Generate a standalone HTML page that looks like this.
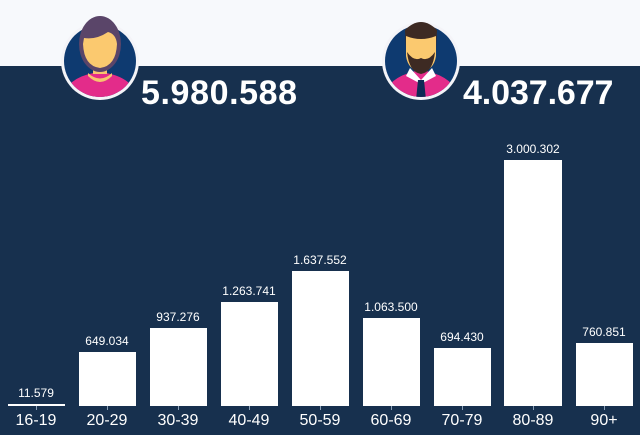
<!DOCTYPE html>
<html><head><meta charset="utf-8"><style>
html,body{margin:0;padding:0;}
body{width:640px;height:435px;overflow:hidden;background:#f7f9fc;}
svg{display:block;font-family:"Liberation Sans",sans-serif;}
</style></head><body>
<svg width="640" height="435" viewBox="0 0 640 435">
<rect x="0" y="0" width="640" height="66" fill="#f7f9fc"/>
<rect x="0" y="66" width="640" height="369" fill="#17304e"/>

<!-- female icon -->
<g>
<circle cx="100" cy="61" r="39" fill="#f4f4f8"/>
<circle cx="100" cy="61" r="36" fill="#0e3a70"/>
<clipPath id="c1"><circle cx="100" cy="61" r="36"/></clipPath>
<g clip-path="url(#c1)">
<path d="M62 100 Q66 76 100 72 Q134 76 138 100 Z" fill="#e32c8a"/>
<rect x="93" y="58" width="14" height="16" fill="#f7c56e"/>
<path d="M88 73 Q100 84 112 73 L112 76 Q100 88 88 76 Z" fill="#f7c56e"/>
</g>
<ellipse cx="100" cy="44" rx="21" ry="28" fill="#5a4569"/>
<path d="M83 44 Q84 66 100 68 Q116 66 117 44 Q116 34 108 32 Q96 40 84 38 Z" fill="#fbc96f"/>
</g>
<text x="141" y="104" font-size="34" font-weight="bold" fill="#ffffff" letter-spacing="0.6">5.980.588</text>

<!-- male icon -->
<g>
<circle cx="421" cy="61" r="39" fill="#f4f4f8"/>
<circle cx="421" cy="61" r="36" fill="#0e3a70"/>
<clipPath id="c2"><circle cx="421" cy="61" r="36"/></clipPath>
<g clip-path="url(#c2)">
<path d="M383 100 Q386 76 421 70 Q456 76 459 100 Z" fill="#e32c8a"/>
<path d="M410 68 L421 80 L432 68 L436 76 L421 84 L406 76 Z" fill="#ffffff"/>
<path d="M418 80 L424 80 L426 100 L416 100 Z" fill="#0e2a55"/>
</g>
<path d="M405 30 Q421 14 437 30 L436 50 L406 50 Z" fill="#3d2a23"/>
<path d="M406 36 Q421 42 436 36 L436 56 Q434 70 421 72 Q408 70 406 56 Z" fill="#fbc96f"/>
<path d="M407 52 Q409 72 421 74 Q433 72 435 52 Q428 62 421 58 Q414 62 407 52 Z" fill="#3d2a23"/>
</g>
<text x="463" y="104" font-size="34" font-weight="bold" fill="#ffffff" letter-spacing="-0.1">4.037.677</text>

<!-- bars -->
<g fill="#ffffff">
<rect x="8" y="404" width="57" height="2"/>
<rect x="79" y="352" width="57" height="54"/>
<rect x="150" y="328" width="57" height="78"/>
<rect x="221" y="302" width="57" height="104"/>
<rect x="292" y="271" width="57" height="135"/>
<rect x="363" y="318" width="57" height="88"/>
<rect x="434" y="348" width="57" height="58"/>
<rect x="504" y="160" width="58" height="246"/>
<rect x="576" y="343" width="57" height="63"/>
</g>
<g stroke="#8aa0b8" stroke-width="1">
<line x1="36.5" y1="406" x2="36.5" y2="410"/><line x1="107.5" y1="406" x2="107.5" y2="410"/>
<line x1="178.5" y1="406" x2="178.5" y2="410"/><line x1="249.5" y1="406" x2="249.5" y2="410"/>
<line x1="320.5" y1="406" x2="320.5" y2="410"/><line x1="391.5" y1="406" x2="391.5" y2="410"/>
<line x1="462.5" y1="406" x2="462.5" y2="410"/><line x1="533.5" y1="406" x2="533.5" y2="410"/>
<line x1="604.5" y1="406" x2="604.5" y2="410"/>
</g>
<g fill="#ffffff" font-size="12" text-anchor="middle">
<text x="36" y="397">11.579</text>
<text x="107" y="345">649.034</text>
<text x="178" y="321">937.276</text>
<text x="249" y="295">1.263.741</text>
<text x="320" y="264">1.637.552</text>
<text x="391" y="311">1.063.500</text>
<text x="462" y="341">694.430</text>
<text x="533" y="153">3.000.302</text>
<text x="604" y="336">760.851</text>
</g>
<g fill="#ffffff" font-size="16" text-anchor="middle">
<text x="36" y="425">16-19</text>
<text x="107" y="425">20-29</text>
<text x="178" y="425">30-39</text>
<text x="249" y="425">40-49</text>
<text x="320" y="425">50-59</text>
<text x="391" y="425">60-69</text>
<text x="462" y="425">70-79</text>
<text x="533" y="425">80-89</text>
<text x="604" y="425">90+</text>
</g>
</svg>
</body></html>
